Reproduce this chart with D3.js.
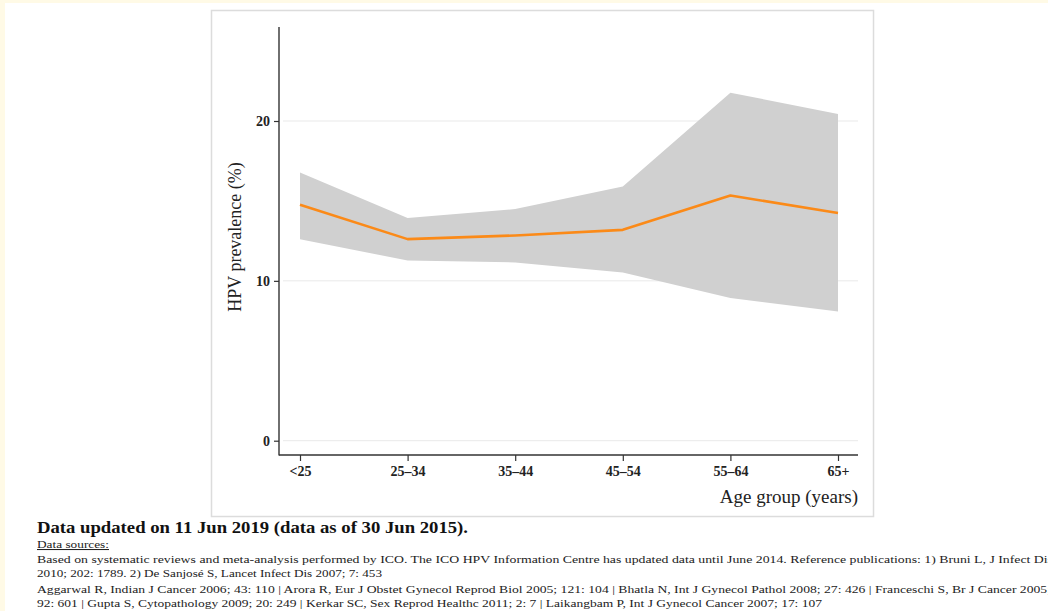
<!DOCTYPE html>
<html>
<head>
<meta charset="utf-8">
<script src="https://cdn.jsdelivr.net/npm/d3@7"></script>
<style>
  html, body { margin: 0; padding: 0; background: #fffae6; overflow: hidden; }
  svg { display: block; }
</style>
</head>
<body>
<div id="chart"></div>
<script>
// age groups and prevalence (%) with 95% CI band
const ageGroups = ['<25', '25–34', '35–44', '45–54', '55–64', '65+']
const prevalence = [14.76, 12.61, 12.84, 13.19, 15.34, 14.24]
const ciLower = [12.61, 11.27, 11.15, 10.52, 8.92, 8.08]
const ciUpper = [16.78, 13.93, 14.49, 15.9, 21.77, 20.44]
const yTicks = [0, 10, 20]

const footTitle = 'Data updated on 11 Jun 2019 (data as of 30 Jun 2015).'
const footLines = [
  'Based on systematic reviews and meta-analysis performed by ICO. The ICO HPV Information Centre has updated data until June 2014. Reference publications: 1) Bruni L, J Infect Dis',
  '2010; 202: 1789. 2) De Sanjosé S, Lancet Infect Dis 2007; 7: 453',
  'Aggarwal R, Indian J Cancer 2006; 43: 110 | Arora R, Eur J Obstet Gynecol Reprod Biol 2005; 121: 104 | Bhatla N, Int J Gynecol Pathol 2008; 27: 426 | Franceschi S, Br J Cancer 2005;',
  '92: 601 | Gupta S, Cytopathology 2009; 20: 249 | Kerkar SC, Sex Reprod Healthc 2011; 2: 7 | Laikangbam P, Int J Gynecol Cancer 2007; 17: 107'
]
const footWidths = [1016, 345, 1014, 785]

const W = 1048
const H = 611
const serif = '"Liberation Serif", "DejaVu Serif", serif'

const svg = d3.select('#chart').append('svg')
  .attr('width', W)
  .attr('height', H)

// white page area and chart frame
svg.append('rect')
  .attr('x', 5).attr('y', 3)
  .attr('width', W).attr('height', H)
  .attr('fill', '#fff')
svg.append('rect')
  .attr('x', 211.5).attr('y', 10.5)
  .attr('width', 662).attr('height', 506)
  .attr('fill', '#fff')
  .attr('stroke', '#dcdcdc')
  .attr('stroke-width', 1.5)

const x = d3.scalePoint()
  .domain(ageGroups)
  .range([300, 838])

const y = d3.scaleLinear()
  .domain([0, 20])
  .range([440.7, 121])

const plotLeft = 279
const plotRight = 858
const plotTop = 27
const plotBottom = 455

// gridlines
svg.append('g')
  .selectAll('line')
  .data(yTicks)
  .join('line')
  .attr('x1', plotLeft + 4)
  .attr('x2', plotRight)
  .attr('y1', d => y(d))
  .attr('y2', d => y(d))
  .attr('stroke', '#e9e9e9')
  .attr('stroke-width', 1)

const rows = ageGroups.map((g, i) => ({ g, v: prevalence[i], lo: ciLower[i], hi: ciUpper[i] }))

// confidence band
svg.append('path')
  .datum(rows)
  .attr('fill', '#d0d0d0')
  .attr('d', d3.area()
    .x(d => x(d.g))
    .y0(d => y(d.lo))
    .y1(d => y(d.hi)))

// prevalence line
svg.append('path')
  .datum(rows)
  .attr('fill', 'none')
  .attr('stroke', '#fb8a18')
  .attr('stroke-width', 2.6)
  .attr('stroke-linejoin', 'round')
  .attr('d', d3.line()
    .x(d => x(d.g))
    .y(d => y(d.v)))

// y axis
const yAxis = svg.append('g')
  .attr('transform', 'translate(' + plotLeft + ',0)')
  .call(d3.axisLeft(y).tickValues(yTicks).tickSize(5).tickPadding(4))
yAxis.select('.domain').remove()
yAxis.append('line')
  .attr('y1', plotTop).attr('y2', plotBottom + 0.5)
  .attr('stroke', '#333').attr('stroke-width', 1.4)
yAxis.selectAll('.tick line').attr('stroke', '#333').attr('stroke-width', 1.2)
yAxis.selectAll('.tick text')
  .attr('fill', '#222')
  .style('font-family', serif)
  .style('font-size', '14px')
  .style('font-weight', 'bold')

// x axis
const xAxis = svg.append('g')
  .attr('transform', 'translate(0,' + plotBottom + ')')
  .call(d3.axisBottom(x).tickSize(6).tickPadding(5))
xAxis.select('.domain').remove()
xAxis.append('line')
  .attr('x1', plotLeft).attr('x2', plotRight)
  .attr('stroke', '#333').attr('stroke-width', 1.4)
xAxis.selectAll('.tick line').attr('stroke', '#333').attr('stroke-width', 1.2)
xAxis.selectAll('.tick text')
  .attr('fill', '#222')
  .style('font-family', serif)
  .style('font-size', '14px')
  .style('font-weight', 'bold')

// axis titles
svg.append('text')
  .attr('transform', 'translate(241,237) rotate(-90)')
  .attr('text-anchor', 'middle')
  .style('font-family', serif)
  .style('font-size', '18px')
  .attr('fill', '#222')
  .text('HPV prevalence (%)')

svg.append('text')
  .attr('x', plotRight)
  .attr('y', 503)
  .attr('text-anchor', 'end')
  .style('font-family', serif)
  .style('font-size', '19px')
  .attr('fill', '#222')
  .text('Age group (years)')

// footer
svg.append('text')
  .attr('x', 37)
  .attr('y', 533)
  .attr('textLength', 431)
  .attr('lengthAdjust', 'spacingAndGlyphs')
  .style('font-family', serif)
  .style('font-size', '17px')
  .style('font-weight', 'bold')
  .attr('fill', '#111')
  .text(footTitle)

svg.append('text')
  .attr('x', 37)
  .attr('y', 548)
  .attr('textLength', 72)
  .attr('lengthAdjust', 'spacingAndGlyphs')
  .style('font-family', serif)
  .style('font-size', '10.5px')
  .style('text-decoration', 'underline')
  .attr('fill', '#222')
  .text('Data sources:')

svg.append('g')
  .selectAll('text')
  .data(footLines)
  .join('text')
  .attr('x', 37)
  .attr('y', (d, i) => [563, 577, 593, 607][i])
  .attr('textLength', (d, i) => footWidths[i])
  .attr('lengthAdjust', 'spacingAndGlyphs')
  .style('font-family', serif)
  .style('font-size', '10.5px')
  .attr('fill', '#222')
  .text(d => d)
</script>
</body>
</html>
